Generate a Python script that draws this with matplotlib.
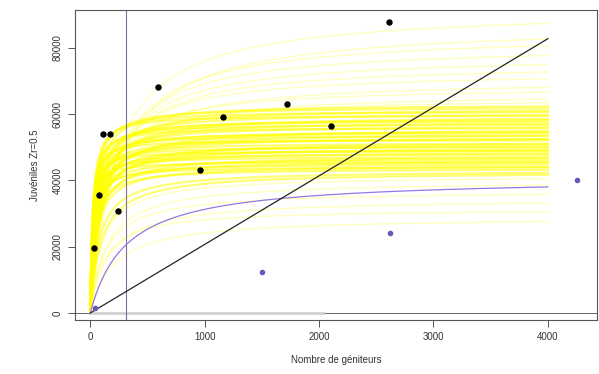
import numpy as np
import matplotlib
matplotlib.use("Agg")
import matplotlib.pyplot as plt

plt.rcParams['font.family'] = ['Liberation Sans', 'DejaVu Sans']

# observed spawners / juveniles (black points)
obs_x = [35, 78, 109, 174, 244, 593, 963, 1159, 1717, 2105, 2614]
obs_y = [19550, 35500, 54000, 54100, 30800, 68100, 43300, 59200, 63150, 56500, 87700]

# purple points
pur_x = [44, 1499, 2623, 4253]
pur_y = [1500, 12500, 24060, 40000]

# Beverton-Holt curves (asymptote, half-saturation), light upper group
asym_up = [92000, 87500, 84500, 81000, 78000, 75500, 73000, 70500, 68500, 66500, 65000]
half_up = [210, 230, 190, 170, 160, 150, 130, 140, 110, 120, 95]

# dense core group
asym_core = [63000, 62200, 61800, 61000, 60400, 59800, 59500, 58700, 58200, 57900,
             57100, 56600, 56000, 55800, 55100, 54600, 54200, 53700, 53100, 52800,
             52300, 51700, 51400, 50800, 50300, 50000, 49400, 49000, 48600, 48100,
             47500, 47200, 46600, 46000, 45700, 45100, 44600, 44200, 43600, 43100, 42700]
half_core = [40, 30, 55, 25, 45, 20, 60, 35, 28, 50,
             22, 40, 18, 65, 35, 25, 50, 20, 45, 30,
             15, 60, 25, 40, 20, 50, 30, 15, 38, 22,
             55, 18, 32, 45, 14, 28, 50, 22, 35, 75, 95]

# light lower group
asym_low = [41500, 40000, 37000, 34500, 31500, 29000]
half_low = [100, 140, 130, 160, 120, 200]

# fitted curve (purple), replacement line, reference spawner level
fit_asym, fit_half = 41000, 310
repl_slope = 20.7
ref_spawners = 314

x_max = 4000

fig = plt.figure(figsize=(5.99, 3.74), dpi=100)
ax = fig.add_axes([0.125, 0.1444, 0.8717, 0.8289])

xs = np.linspace(0, x_max, 500)

for a, b in zip(asym_up + asym_low, half_up + half_low):
    ax.plot(xs, a * xs / (b + xs), color='#ffff00', alpha=0.25, lw=1.0, zorder=1)
for a, b in zip(asym_core, half_core):
    ax.plot(xs, a * xs / (b + xs), color='#ffff00', alpha=0.55, lw=1.6, zorder=1)

ax.plot(xs, fit_asym * xs / (fit_half + xs), color='#9478e4', lw=0.9, zorder=3)
ax.plot([0, x_max], [0, repl_slope * x_max], color='#222222', lw=0.9, zorder=3)

# horizontal reference at zero
ax.axhline(0, color='#666666', lw=0.7, zorder=2)
ax.plot([0, 2030], [0, 0], color='#d0d0d0', lw=2.0, zorder=2)

ax.axvline(ref_spawners, color='#7d6f9c', lw=0.8, zorder=2)

ax.scatter(obs_x, obs_y, s=13, color='black', zorder=4)
ax.scatter(pur_x, pur_y, s=9, color='#6a55b8', zorder=4)

ax.set_xlim(-135, 4430)
ax.set_ylim(-2113, 91470)
ax.set_xticks([0, 1000, 2000, 3000, 4000])
ax.set_yticks([0, 20000, 40000, 60000, 80000])
ax.set_yticklabels(['0', '20000', '40000', '60000', '80000'], rotation=90, va='center')

ax.tick_params(direction='out', length=5, width=0.7, colors='#555555',
               labelcolor='#333333', labelsize=7, pad=4)
for s in ax.spines.values():
    s.set_color('#555555')
    s.set_linewidth(0.8)

ax.set_xlabel('Nombre de géniteurs', fontsize=7, color='#333333', labelpad=9)
ax.set_ylabel('Juvéniles Zr=0.5', fontsize=7, color='#333333', labelpad=9)

fig.savefig('out.png', dpi=100)
